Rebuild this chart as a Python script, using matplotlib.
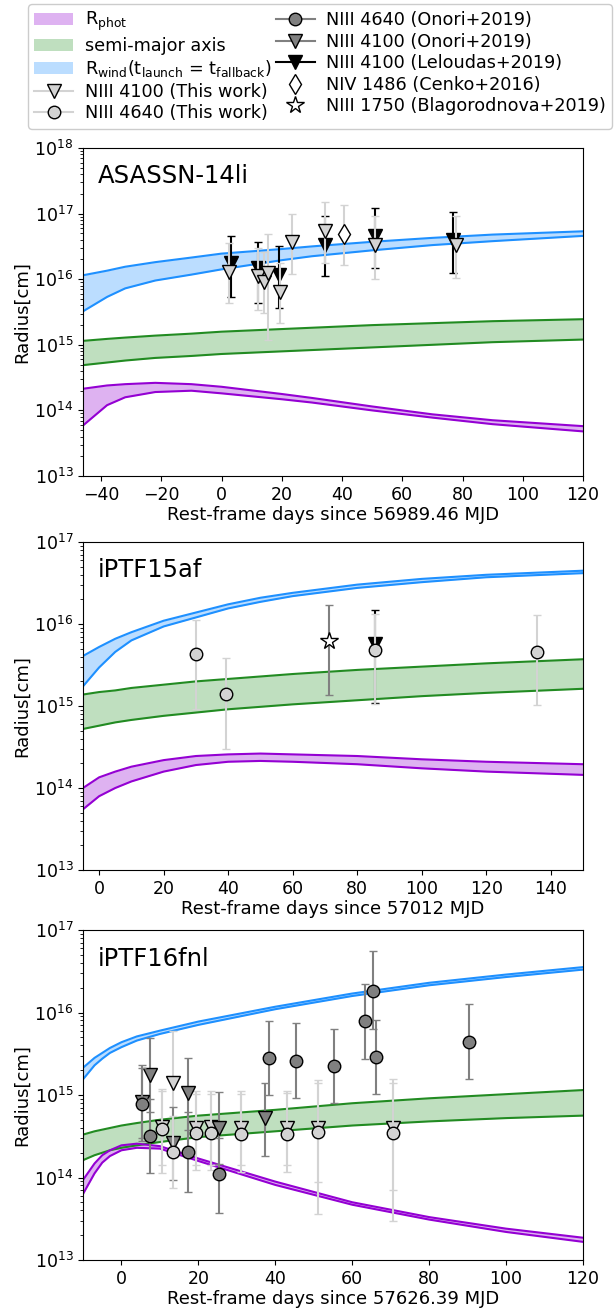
import numpy as np
import matplotlib
matplotlib.use("Agg")
import matplotlib.pyplot as plt
from matplotlib.lines import Line2D
from matplotlib.patches import Patch
from matplotlib.ticker import LogLocator, NullFormatter

plt.rcParams['font.family'] = ['DejaVu Sans']
plt.rcParams['mathtext.default'] = 'regular'

# ---------------- model curves (log10 radius in cm) ----------------
# ASASSN-14li
p1_t = [-46, -38, -32, -22, -10, 0, 20, 30, 50, 70, 90, 120]
p1_wind_hi = [16.06, 16.13, 16.19, 16.26, 16.33, 16.39, 16.46, 16.50, 16.57, 16.63, 16.68, 16.73]
p1_wind_lo = [15.51, 15.73, 15.86, 15.98, 16.07, 16.15, 16.29, 16.35, 16.44, 16.52, 16.58, 16.66]
p1_sma_hi = [15.06, 15.09, 15.11, 15.14, 15.17, 15.20, 15.24, 15.26, 15.30, 15.33, 15.36, 15.39]
p1_sma_lo = [14.69, 14.73, 14.76, 14.80, 14.83, 14.86, 14.90, 14.92, 14.96, 15.00, 15.04, 15.08]
p1_phot_hi = [14.33, 14.38, 14.40, 14.42, 14.40, 14.36, 14.25, 14.19, 14.06, 13.94, 13.85, 13.76]
p1_phot_lo = [13.77, 14.08, 14.20, 14.28, 14.30, 14.26, 14.17, 14.12, 14.00, 13.89, 13.79, 13.68]

# iPTF15af
p2_t = [-5, 0, 5, 10, 20, 30, 40, 50, 60, 80, 100, 120, 150]
p2_wind_hi = [15.61, 15.72, 15.82, 15.90, 16.04, 16.14, 16.24, 16.32, 16.38, 16.48, 16.55, 16.60, 16.65]
p2_wind_lo = [15.24, 15.47, 15.66, 15.80, 15.97, 16.08, 16.19, 16.27, 16.34, 16.44, 16.51, 16.57, 16.62]
p2_sma_hi = [15.14, 15.17, 15.19, 15.22, 15.26, 15.30, 15.33, 15.36, 15.39, 15.44, 15.48, 15.52, 15.57]
p2_sma_lo = [14.72, 14.76, 14.80, 14.83, 14.88, 14.92, 14.96, 14.99, 15.02, 15.07, 15.12, 15.16, 15.21]
p2_phot_hi = [14.00, 14.13, 14.20, 14.26, 14.34, 14.39, 14.41, 14.42, 14.41, 14.39, 14.35, 14.32, 14.29]
p2_phot_lo = [13.74, 13.90, 14.00, 14.08, 14.20, 14.28, 14.32, 14.33, 14.32, 14.29, 14.24, 14.20, 14.16]

# iPTF16fnl
p3_t = [-10, -7, -5, -3, 0, 4, 10, 20, 40, 60, 80, 100, 120]
p3_wind_hi = [15.33, 15.45, 15.51, 15.57, 15.64, 15.71, 15.78, 15.89, 16.07, 16.23, 16.36, 16.46, 16.55]
p3_wind_lo = [15.19, 15.36, 15.44, 15.51, 15.58, 15.66, 15.74, 15.85, 16.04, 16.20, 16.33, 16.43, 16.52]
p3_sma_hi = [14.52, 14.56, 14.58, 14.60, 14.63, 14.66, 14.70, 14.75, 14.82, 14.90, 14.96, 15.01, 15.06]
p3_sma_lo = [14.21, 14.27, 14.30, 14.33, 14.36, 14.39, 14.43, 14.49, 14.56, 14.63, 14.68, 14.72, 14.75]
p3_phot_hi = [13.97, 14.17, 14.27, 14.33, 14.39, 14.41, 14.38, 14.23, 13.95, 13.70, 13.52, 13.38, 13.27]
p3_phot_lo = [13.80, 14.05, 14.18, 14.26, 14.33, 14.36, 14.35, 14.20, 13.91, 13.67, 13.49, 13.34, 13.22]

# ---------------- measurements (radius in cm; lower / upper bounds) ----------------
# ASASSN-14li
a_tw4100_t = [2.4, 12.0, 14.2, 15.3, 19.5, 23.4, 34.2, 51.0, 77.7]
a_tw4100_r = [1.31e16, 1.10e16, 9.1e15, 1.23e16, 6.3e15, 3.7e16, 5.5e16, 3.3e16, 3.3e16]
a_tw4100_lo = [4.4e15, 3.4e15, 3.1e15, 1.17e15, 2.14e15, 1.2e16, 1.74e16, 1.02e16, 1.05e16]
a_tw4100_hi = [3.6e16, 2.95e16, 2.57e16, 4.9e16, 1.74e16, 1.0e17, 1.48e17, 9.3e16, 9.3e16]
a_lel_t = [3.3, 12.0, 19.2, 34.2, 51.0, 77.0]
a_lel_r = [1.78e16, 1.48e16, 1.17e16, 3.3e16, 4.6e16, 4.0e16]
a_lel_lo = [5.4e15, 4.4e15, 3.7e15, 1.1e16, 1.5e16, 1.23e16]
a_lel_hi = [4.6e16, 3.7e16, 3.2e16, 9.3e16, 1.2e17, 1.07e17]
a_cenko_t = [40.5]
a_cenko_r = [4.9e16]
a_cenko_lo = [1.66e16]
a_cenko_hi = [1.35e17]

# iPTF15af
b_tw4640_t = [30.0, 39.3, 85.5, 135.6]
b_tw4640_r = [4.25e15, 1.41e15, 4.8e15, 4.6e15]
b_tw4640_lo = [9.3e14, 3.0e14, 1.07e15, 1.02e15]
b_tw4640_hi = [1.12e16, 3.9e15, 1.32e16, 1.29e16]
b_blag_t = [71.4]
b_blag_r = [6.2e15]
b_blag_lo = [1.35e15]
b_blag_hi = [1.7e16]
b_lel_t = [85.5]
b_lel_r = [5.7e15]
b_lel_lo = [1.1e15]
b_lel_hi = [1.48e16]

# iPTF16fnl
c_on4640_t = [5.4, 7.4, 17.4, 25.4, 38.4, 45.3, 55.2, 63.2, 65.3, 66.3, 90.3]
c_on4640_r = [7.8e14, 3.2e14, 2.05e14, 1.1e14, 2.8e15, 2.6e15, 2.25e15, 7.8e15, 1.8e16, 2.9e15, 4.4e15]
c_on4640_lo = [2.75e14, 1.12e14, 6.6e13, 3.7e13, 1.0e15, 9.1e14, 7.9e14, 2.75e15, 6.3e15, 1.02e15, 1.58e15]
c_on4640_hi = [2.1e15, 9.0e14, 6.3e14, 3.0e14, 7.9e15, 7.4e15, 6.3e15, 2.2e16, 5.5e16, 8.1e15, 1.26e16]
c_on4100_t = [5.4, 7.4, 13.4, 17.4, 25.4, 37.3]
c_on4100_r = [8.3e14, 1.74e15, 2.6e14, 1.05e15, 4.0e14, 5.2e14]
c_on4100_lo = [3.0e14, 6.3e14, 9.3e13, 3.8e14, 1.45e14, 1.8e14]
c_on4100_hi = [2.3e15, 4.9e15, 7.1e14, 2.8e15, 1.1e15, 1.4e15]
c_tw4100_t = [10.5, 13.4, 19.4, 23.3, 31.2, 43.0, 51.0, 70.7]
c_tw4100_r = [4.1e14, 1.38e15, 4.0e14, 4.1e14, 4.0e14, 4.0e14, 4.0e14, 4.0e14]
c_tw4100_lo = [1.4e14, 3.2e14, 1.4e14, 1.4e14, 1.4e14, 1.4e14, 8.9e13, 7.1e13]
c_tw4100_hi = [1.12e15, 5.9e15, 1.12e15, 1.12e15, 1.12e15, 1.12e15, 1.4e15, 1.4e15]
c_tw4640_t = [10.5, 13.4, 19.4, 23.3, 31.2, 43.0, 51.0, 70.7]
c_tw4640_r = [3.9e14, 2.05e14, 3.5e14, 3.5e14, 3.4e14, 3.4e14, 3.55e14, 3.5e14]
c_tw4640_lo = [1.12e14, 7.4e13, 1.23e14, 1.23e14, 1.17e14, 1.17e14, 3.6e13, 3.0e13]
c_tw4640_hi = [1.17e15, 5.6e14, 1.02e15, 1.02e15, 1.02e15, 1.05e15, 1.5e15, 1.55e15]

# ---------------- styles ----------------
C_WIND, C_SMA, C_PHOT = 'dodgerblue', 'forestgreen', 'darkviolet'
F_WIND, F_SMA, F_PHOT = 'dodgerblue', 'green', 'darkviolet'

def band(ax, t, lo, hi, lc, fc, alpha):
    lo = 10 ** np.asarray(lo)
    hi = 10 ** np.asarray(hi)
    ax.fill_between(t, lo, hi, color=fc, alpha=alpha, lw=0)
    ax.plot(t, lo, color=lc, lw=1.5)
    ax.plot(t, hi, color=lc, lw=1.5)

def errpts(ax, t, r, lo, hi, marker, fc, ecol, ms, z, mec='k'):
    r = np.asarray(r); lo = np.asarray(lo); hi = np.asarray(hi)
    ax.errorbar(t, r, yerr=[r - lo, hi - r], fmt=marker, ms=ms, mfc=fc, mec=mec,
                mew=1.0, ecolor=ecol, elinewidth=1.5, capsize=3, capthick=1.2, zorder=z)

def style(ax, xlim, ylim, xlabel, name):
    ax.set_yscale('log')
    ax.set_xlim(*xlim)
    ax.set_ylim(*ylim)
    ax.yaxis.set_minor_locator(LogLocator(base=10, subs=np.arange(2, 10), numticks=20))
    ax.yaxis.set_minor_formatter(NullFormatter())
    ax.set_xlabel(xlabel, fontsize=13, labelpad=2)
    ax.set_ylabel('Radius[cm]', fontsize=13, labelpad=2)
    ax.tick_params(labelsize=12.5)
    ax.text(0.03, 0.95, name, transform=ax.transAxes, fontsize=17.5, va='top', ha='left')

fig = plt.figure(figsize=(6.15, 13.11), dpi=100)
L, W = 83 / 615, 500 / 615
ax1 = fig.add_axes([L, 1 - 476 / 1311, W, 328 / 1311])
ax2 = fig.add_axes([L, 1 - 870 / 1311, W, 328 / 1311])
ax3 = fig.add_axes([L, 1 - 1260 / 1311, W, 330 / 1311])

# Panel 1
band(ax1, p1_t, p1_wind_lo, p1_wind_hi, C_WIND, F_WIND, 0.3)
band(ax1, p1_t, p1_sma_lo, p1_sma_hi, C_SMA, F_SMA, 0.25)
band(ax1, p1_t, p1_phot_lo, p1_phot_hi, C_PHOT, F_PHOT, 0.3)
errpts(ax1, a_lel_t, a_lel_r, a_lel_lo, a_lel_hi, 'v', 'k', 'k', 10, 4)
errpts(ax1, a_tw4100_t, a_tw4100_r, a_tw4100_lo, a_tw4100_hi, 'v', 'lightgray', 'lightgray', 10, 5)
errpts(ax1, a_cenko_t, a_cenko_r, a_cenko_lo, a_cenko_hi, 'd', 'white', 'lightgray', 10, 5)
style(ax1, (-46, 120), (1e13, 1e18), 'Rest-frame days since 56989.46 MJD', 'ASASSN-14li')

# Panel 2
band(ax2, p2_t, p2_wind_lo, p2_wind_hi, C_WIND, F_WIND, 0.3)
band(ax2, p2_t, p2_sma_lo, p2_sma_hi, C_SMA, F_SMA, 0.25)
band(ax2, p2_t, p2_phot_lo, p2_phot_hi, C_PHOT, F_PHOT, 0.3)
errpts(ax2, b_lel_t, b_lel_r, b_lel_lo, b_lel_hi, 'v', 'k', 'k', 10, 4)
errpts(ax2, b_blag_t, b_blag_r, b_blag_lo, b_blag_hi, '*', 'white', 'gray', 13, 5)
errpts(ax2, b_tw4640_t, b_tw4640_r, b_tw4640_lo, b_tw4640_hi, 'o', 'lightgray', 'lightgray', 9, 5)
style(ax2, (-5, 150), (1e13, 1e17), 'Rest-frame days since 57012 MJD', 'iPTF15af')

# Panel 3
band(ax3, p3_t, p3_wind_lo, p3_wind_hi, C_WIND, F_WIND, 0.3)
band(ax3, p3_t, p3_sma_lo, p3_sma_hi, C_SMA, F_SMA, 0.25)
band(ax3, p3_t, p3_phot_lo, p3_phot_hi, C_PHOT, F_PHOT, 0.3)
errpts(ax3, c_tw4100_t, c_tw4100_r, c_tw4100_lo, c_tw4100_hi, 'v', 'lightgray', 'lightgray', 10, 3)
errpts(ax3, c_on4100_t, c_on4100_r, c_on4100_lo, c_on4100_hi, 'v', 'gray', 'gray', 10, 4)
errpts(ax3, c_tw4640_t, c_tw4640_r, c_tw4640_lo, c_tw4640_hi, 'o', 'lightgray', 'lightgray', 9, 5)
errpts(ax3, c_on4640_t, c_on4640_r, c_on4640_lo, c_on4640_hi, 'o', 'gray', 'gray', 9, 6)
style(ax3, (-10, 120), (1e13, 1e17), 'Rest-frame days since 57626.39 MJD', 'iPTF16fnl')

# Legend
handles = [
    Patch(facecolor=F_PHOT, alpha=0.3, lw=0),
    Patch(facecolor=F_SMA, alpha=0.25, lw=0),
    Patch(facecolor=F_WIND, alpha=0.3, lw=0),
    Line2D([], [], color='lightgray', marker='v', ms=10, mfc='lightgray', mec='k', lw=1.5),
    Line2D([], [], color='lightgray', marker='o', ms=9, mfc='lightgray', mec='k', lw=1.5),
    Line2D([], [], color='gray', marker='o', ms=9, mfc='gray', mec='k', lw=1.5),
    Line2D([], [], color='gray', marker='v', ms=10, mfc='gray', mec='k', lw=1.5),
    Line2D([], [], color='k', marker='v', ms=10, mfc='k', mec='k', lw=1.5),
    Line2D([], [], color='k', marker='d', ms=10, mfc='white', mec='k', lw=0),
    Line2D([], [], color='k', marker='*', ms=13, mfc='white', mec='k', lw=0),
]
labels = [
    r'R$_{\rm phot}$', 'semi-major axis',
    r'R$_{\rm wind}$(t$_{\rm launch}$ = t$_{\rm fallback}$)',
    'NIII 4100 (This work)', 'NIII 4640 (This work)',
    'NIII 4640 (Onori+2019)', 'NIII 4100 (Onori+2019)', 'NIII 4100 (Leloudas+2019)',
    'NIV 1486 (Cenko+2016)', 'NIII 1750 (Blagorodnova+2019)',
]
fig.legend(handles, labels, ncol=2, loc='upper right', bbox_to_anchor=(612 / 615, 1 - 4 / 1311),
           fontsize=12.7, handlelength=2.2, columnspacing=0.25, handletextpad=0.65,
           labelspacing=0.2, borderpad=0.35, borderaxespad=0, framealpha=1)

fig.savefig('out.png', dpi=100)
